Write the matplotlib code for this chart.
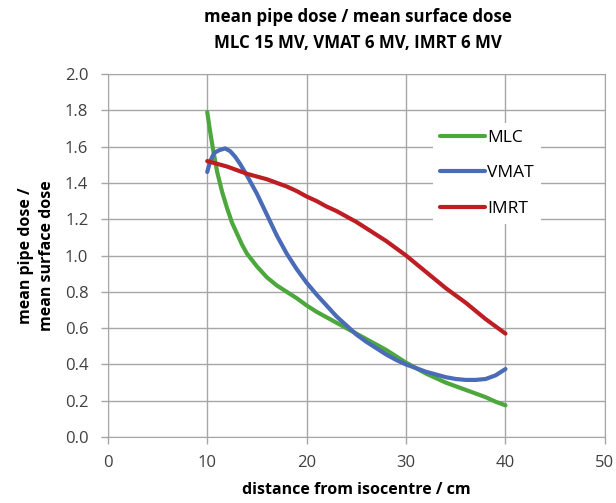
import matplotlib

matplotlib.use("Agg")
import matplotlib.pyplot as plt

# distance from isocentre (cm) and dose ratios
mlc_x = [10, 10.3, 10.6, 11, 11.5, 12, 12.5, 13, 13.5, 14, 15, 16, 17, 18, 19, 20, 21, 22, 23, 24,
         25, 26, 27, 28, 29, 30, 31, 32, 33, 34, 35, 36, 37, 38, 39, 40]
mlc_y = [1.79, 1.68, 1.58, 1.46, 1.35, 1.26, 1.18, 1.12, 1.06, 1.01, 0.94, 0.88, 0.835, 0.80, 0.765,
         0.725, 0.69, 0.66, 0.63, 0.60, 0.57, 0.54, 0.51, 0.48, 0.445, 0.41, 0.38, 0.35, 0.325, 0.30,
         0.28, 0.26, 0.24, 0.22, 0.195, 0.175]

vmat_x = [10, 10.3, 10.7, 11.2, 11.8, 12.3, 12.8, 13.3, 14, 15, 16, 17, 18, 19, 20, 21, 22, 23, 24,
          25, 26, 27, 28, 29, 30, 31, 32, 33, 34, 35, 36, 37, 38, 39, 40]
vmat_y = [1.46, 1.52, 1.565, 1.58, 1.59, 1.575, 1.545, 1.505, 1.44, 1.34, 1.225, 1.11, 1.01, 0.925,
          0.85, 0.785, 0.725, 0.665, 0.615, 0.565, 0.525, 0.49, 0.455, 0.425, 0.40, 0.38, 0.36, 0.345,
          0.33, 0.32, 0.315, 0.315, 0.32, 0.34, 0.375]

imrt_x = [10, 11, 12, 13, 14, 15, 16, 17, 18, 19, 20, 21, 22, 23, 24, 25, 26, 27, 28, 29, 30, 31,
          32, 33, 34, 35, 36, 37, 38, 39, 40]
imrt_y = [1.52, 1.505, 1.49, 1.47, 1.45, 1.435, 1.42, 1.40, 1.38, 1.355, 1.325, 1.30, 1.27, 1.245,
          1.215, 1.185, 1.15, 1.115, 1.08, 1.04, 1.00, 0.955, 0.91, 0.865, 0.82, 0.78, 0.74, 0.695,
          0.65, 0.61, 0.57]

x_ticks = [0, 10, 20, 30, 40, 50]
y_ticks = [0.0, 0.2, 0.4, 0.6, 0.8, 1.0, 1.2, 1.4, 1.6, 1.8, 2.0]

GRID = "#a6a6a6"
TXT = "#404040"
plt.rcParams["font.family"] = ["Open Sans", "DejaVu Sans"]

fig = plt.figure(figsize=(6.16, 5.03), dpi=100)
ax = fig.add_axes([0.175, 0.131, 0.807, 0.722])

style = dict(lw=3, solid_capstyle="round", solid_joinstyle="round")
ax.plot(mlc_x, mlc_y, color="#4ca83d", label="MLC", **style)
ax.plot(vmat_x, vmat_y, color="#4a6cb8", label="VMAT", **style)
ax.plot(imrt_x, imrt_y, color="#be1e23", label="IMRT", **style)

ax.set_xlim(0, 50)
ax.set_ylim(0, 2.0)
ax.set_xticks(x_ticks)
ax.set_yticks(y_ticks)
ax.set_yticklabels([f"{v:.1f}" for v in y_ticks])
ax.grid(True, color=GRID, lw=1)
ax.set_axisbelow(True)
for s in ax.spines.values():
    s.set_color(GRID)
ax.tick_params(colors=GRID, labelcolor=TXT, labelsize=12, length=5, width=1)
ax.tick_params(axis="x", pad=8)
ax.tick_params(axis="y", pad=9)

ax.set_xlabel("distance from isocentre / cm", fontsize=11.5, fontweight="bold", labelpad=8)
ax.set_ylabel("mean pipe dose /\nmean surface dose", fontsize=11.5, fontweight="bold",
              labelpad=7, linespacing=1.4)

fig.text(0.581, 0.984, "mean pipe dose / mean surface dose\nMLC 15 MV, VMAT 6 MV, IMRT 6 MV",
         ha="center", va="top", fontsize=12.2, fontweight="bold", linespacing=1.6)

leg = ax.legend(loc="upper left", bbox_to_anchor=(424 / 616, 1 - 114 / 503),
                bbox_transform=fig.transFigure, fontsize=12.5, handlelength=2.6,
                labelspacing=1.12, handletextpad=0.15, borderpad=0.4,
                frameon=True, fancybox=False, framealpha=1)
leg.get_frame().set_edgecolor("white")
leg.get_frame().set_linewidth(0)

fig.savefig("out.png", dpi=100)
